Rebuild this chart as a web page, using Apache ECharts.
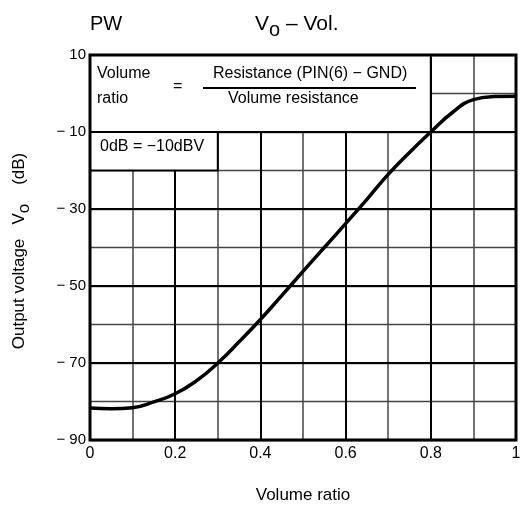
<!DOCTYPE html>
<html><head><meta charset="utf-8">
<script src="https://cdn.jsdelivr.net/npm/echarts@6/dist/echarts.min.js"></script>
<style>html,body{margin:0;padding:0;background:#fff}#c{width:526px;height:510px}</style>
</head><body><div id="c"></div>
<script>
// ---- data ----
const volumeRatio = [0, 0.05, 0.1, 0.15, 0.2, 0.25, 0.3, 0.35, 0.4, 0.45, 0.5, 0.55, 0.6, 0.65, 0.7, 0.75, 0.8, 0.85, 0.9, 0.95, 1.0];
const outputDb    = [-81.7, -81.9, -81.6, -80.1, -78, -74.6, -70, -64.5, -58.7, -52.5, -46.2, -40, -33.8, -27.5, -21, -15.3, -10, -5, -1.6, -0.8, -0.7];
const xLabelValues = [0, 0.2, 0.4, 0.6, 0.8, 1];
const yLabelValues = [-90, -70, -50, -30, -10, 10];
const xMajorLines = [0.2, 0.4, 0.6, 0.8];
const yMajorLines = [-70, -50, -30, -10];
// boxes: [x0, y0, x1, y1] in data units
const formulaBox = [0, 10, 0.8, -10];
const noteBox = [0, -10, 0.3, -20];

const FONT = '"Liberation Sans", Arial, sans-serif';
const chart = echarts.init(document.getElementById('c'), null, {renderer: 'canvas'});

const curveData = volumeRatio.map((v, i) => [v, outputDb[i]]);

const option = {
  animation: false,
  backgroundColor: '#fff',
  grid: {left: 90, right: 10, top: 55, bottom: 70, show: false},
  xAxis: {
    type: 'value', min: 0, max: 1, interval: 0.1,
    axisLine: {show: false}, axisTick: {show: false},
    axisLabel: {
      color: '#000', fontFamily: FONT, fontSize: 16, margin: 6,
      formatter: v => xLabelValues.some(t => Math.abs(t - v) < 1e-6) ? String(+v.toFixed(1)) : ''
    },
    splitLine: {show: true, lineStyle: {color: '#444', width: 1.5}},
    name: 'Volume ratio', nameLocation: 'middle', nameGap: 47,
    nameTextStyle: {color: '#000', fontFamily: FONT, fontSize: 17}
  },
  yAxis: {
    type: 'value', min: -90, max: 10, interval: 10,
    axisLine: {show: false}, axisTick: {show: false},
    axisLabel: {
      color: '#000', fontFamily: FONT, fontSize: 15, margin: 4,
      formatter: v => yLabelValues.includes(Math.round(v)) ? (v < 0 ? '\u2212 ' + Math.abs(v) : String(v)) : ''
    },
    splitLine: {show: true, lineStyle: {color: '#444', width: 1.3}}
  },
  series: [
    {
      name: 'majorGrid', type: 'line', data: [], z: 1, silent: true,
      markLine: {
        silent: true, symbol: 'none', label: {show: false}, animation: false, z: 1,
        lineStyle: {color: '#000', width: 2, type: 'solid'},
        data: xMajorLines.map(v => ({xAxis: v})).concat(yMajorLines.map(v => ({yAxis: v})))
      }
    },
    {
      name: 'boxes', type: 'line', data: [], z: 2, silent: true,
      markArea: {
        silent: true, label: {show: false}, z: 2,
        itemStyle: {color: '#fff', opacity: 1, borderColor: '#000', borderWidth: 2},
        data: [formulaBox, noteBox].map(b => [{coord: [b[0], b[1]]}, {coord: [b[2], b[3]]}])
      }
    },
    {
      name: 'Vo', type: 'line', data: curveData, z: 3,
      smooth: 0.5, showSymbol: false,
      lineStyle: {color: '#000', width: 3.5},
      markArea: {
        silent: true, label: {show: false}, z: 4,
        itemStyle: {color: 'rgba(0,0,0,0)', opacity: 1, borderColor: '#000', borderWidth: 3},
        data: [[{coord: [0, 10]}, {coord: [1, -90]}]]
      }
    }
  ],
  graphic: {
    elements: [
      {type: 'text', z: 100, left: 90, top: 14, style: {text: 'PW', font: '20px ' + FONT, fill: '#000'}},
      {type: 'text', z: 100, left: 255, top: 8, style: {
        text: '{a|V}{s|o}{a| \u2013 Vol.}',
        rich: {
          a: {fontSize: 21, fontFamily: FONT, color: '#000', lineHeight: 24},
          s: {fontSize: 20, fontFamily: FONT, color: '#000', lineHeight: 24, padding: [12, 0, 0, 0]}
        }
      }},
      {type: 'text', z: 100, x: 19, y: 251, rotation: Math.PI / 2, style: {
        text: '{a|Output voltage   V}{s|o}{a|    (dB)}', align: 'center', verticalAlign: 'middle',
        rich: {
          a: {fontSize: 17, fontFamily: FONT, color: '#000', lineHeight: 20},
          s: {fontSize: 17, fontFamily: FONT, color: '#000', lineHeight: 20, padding: [10, 0, 0, 0]}
        }
      }},
      {type: 'text', z: 100, left: 97, top: 66, style: {text: 'Volume', font: '16px ' + FONT, fill: '#000'}},
      {type: 'text', z: 100, left: 97, top: 91, style: {text: 'ratio', font: '16px ' + FONT, fill: '#000'}},
      {type: 'text', z: 100, left: 173, top: 79, style: {text: '=', font: '16px ' + FONT, fill: '#000'}},
      {type: 'text', z: 100, left: 213, top: 66, style: {text: 'Resistance (PIN(6) \u2212 GND)', font: '16px ' + FONT, fill: '#000'}},
      {type: 'line', z: 100, shape: {x1: 203, y1: 88, x2: 416, y2: 88}, style: {stroke: '#000', lineWidth: 2}},
      {type: 'text', z: 100, left: 228, top: 91, style: {text: 'Volume resistance', font: '16px ' + FONT, fill: '#000'}},
      {type: 'text', z: 100, left: 100, top: 139, style: {text: '0dB = \u221210dBV', font: '16px ' + FONT, fill: '#000'}}
    ]
  }
};
chart.setOption(option);
</script>
</body></html>
